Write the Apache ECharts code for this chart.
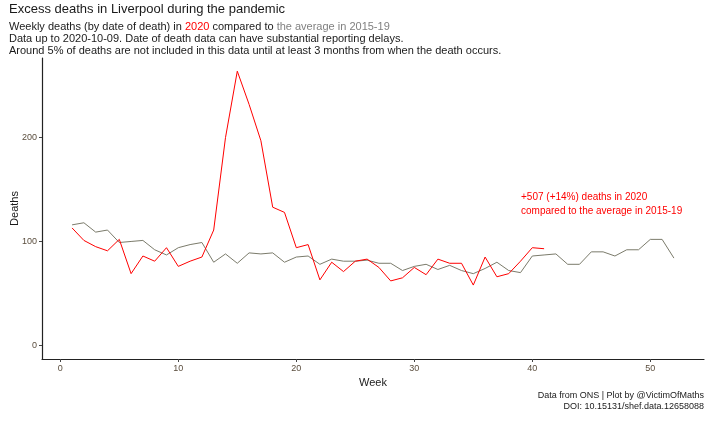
<!DOCTYPE html>
<html>
<head>
<meta charset="utf-8">
<script src="https://cdn.jsdelivr.net/npm/echarts@6/dist/echarts.min.js"></script>
<style>
  html, body { margin: 0; padding: 0; background: #fff; }
  #chart { width: 719px; height: 441px; }
</style>
</head>
<body>
<div id="chart"></div>
<script>
// weekly deaths, weeks 1..41 of 2020
const deaths2020 = [113, 101, 95, 91, 102, 69, 86, 81, 94, 76, 81, 85, 111, 200, 264, 232, 197, 133, 128, 94,
  97, 63, 80, 71, 81, 83, 75, 62, 65, 75, 68, 83, 79, 79, 58, 85, 66, 69, 81, 94, 93];
// average 2015-19, weeks 1..52
const deathsAvg = [116, 118, 109, 111, 99, 100, 101, 92, 87, 94, 97, 99, 80, 88, 79, 89, 88, 89, 80, 85,
  86, 78, 83, 81, 81, 82, 79, 79, 72, 76, 78, 73, 77, 72, 69, 74, 80, 72, 70, 86,
  87, 88, 78, 78, 90, 90, 86, 92, 92, 102, 102, 84];
const xTicks = [0, 10, 20, 30, 40, 50];
const yTicks = [0, 100, 200];

const red = '#ff0000';
const grey = '#7b7b6b';
const ink = '#1a1a1a';
const font = 'Liberation Sans, Arial, sans-serif';

const chart = echarts.init(document.getElementById('chart'));
chart.setOption({
  animation: false,
  backgroundColor: '#fff',
  textStyle: { fontFamily: font },
  title: [
    {
      text: 'Excess deaths in Liverpool during the pandemic',
      left: 9, top: 3, padding: 0,
      textStyle: { fontSize: 13, fontWeight: 'normal', color: ink }
    },
    {
      text: '{a|Weekly deaths (by date of death) in }{r|2020}{a| compared to }{g|the average in 2015-19}\n' +
        '{a|Data up to 2020-10-09. Date of death data can have substantial reporting delays.}\n' +
        '{a|Around 5% of deaths are not included in this data until at least 3 months from when the death occurs.}',
      left: 9, top: 21, padding: 0,
      textStyle: {
        fontSize: 11, fontWeight: 'normal', color: ink, lineHeight: 12,
        rich: {
          a: { fontSize: 11, color: ink, lineHeight: 12 },
          r: { fontSize: 11, color: red, lineHeight: 12 },
          g: { fontSize: 11, color: '#808080', lineHeight: 12 }
        }
      }
    }
  ],
  grid: { left: 42, right: 15, top: 58, bottom: 82, outerBoundsMode: 'none' },
  xAxis: {
    type: 'value',
    min: -1.55, max: 54.55,
    name: 'Week', nameLocation: 'middle', nameGap: 16,
    nameTextStyle: { fontSize: 11, color: ink },
    axisLine: { onZero: false, lineStyle: { color: '#222', width: 1.2 } },
    axisTick: { length: 3, lineStyle: { color: '#444' }, customValues: xTicks },
    axisLabel: { fontSize: 9, color: '#5a4d3d', margin: 5, customValues: xTicks },
    splitLine: { show: false }
  },
  yAxis: {
    type: 'value',
    min: -13.2, max: 276.7,
    name: 'Deaths', nameLocation: 'middle', nameGap: 22, nameRotate: 90,
    nameMoveOverlap: false,
    nameTextStyle: { fontSize: 11, color: ink },
    axisLine: { show: true, onZero: false, lineStyle: { color: '#222', width: 1.2 } },
    axisTick: { show: true, length: 3, lineStyle: { color: '#444' }, customValues: yTicks },
    axisLabel: { fontSize: 9, color: '#5a4d3d', margin: 5, customValues: yTicks },
    splitLine: { show: false }
  },
  series: [
    {
      name: 'Average 2015-19',
      type: 'line',
      data: deathsAvg.map((v, i) => [i + 1, v]),
      showSymbol: false,
      lineStyle: { color: grey, width: 1 },
      z: 2
    },
    {
      name: '2020',
      type: 'line',
      data: deaths2020.map((v, i) => [i + 1, v]),
      showSymbol: false,
      lineStyle: { color: red, width: 1 },
      z: 3
    }
  ],
  graphic: [
    {
      type: 'text',
      left: 521, top: 190,
      style: {
        text: '+507 (+14%) deaths in 2020\ncompared to the average in 2015-19',
        fill: red, fontSize: 10, lineHeight: 14, fontFamily: font
      }
    },
    {
      type: 'text',
      x: 704, y: 390,
      style: {
        text: 'Data from ONS | Plot by @VictimOfMaths\nDOI: 10.15131/shef.data.12658088',
        fill: ink, fontSize: 9, lineHeight: 11, align: 'right', fontFamily: font
      }
    }
  ]
});
</script>
</body>
</html>
